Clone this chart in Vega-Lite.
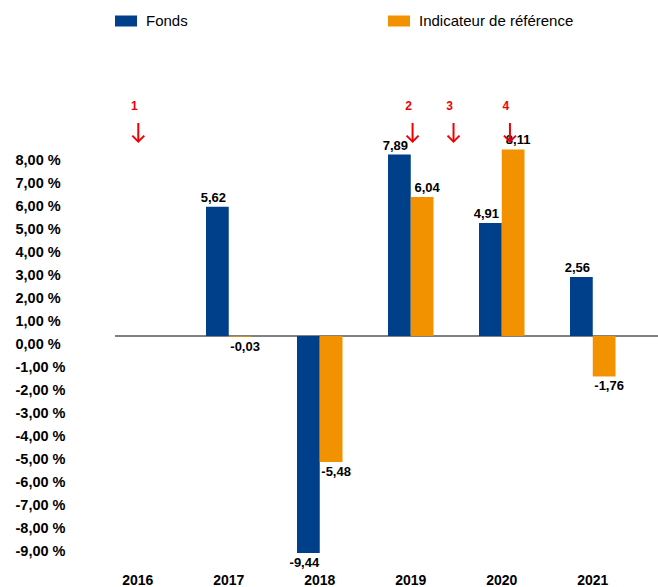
{
  "$schema": "https://vega.github.io/schema/vega-lite/v6.json",
  "width": 543,
  "height": 506,
  "autosize": "none",
  "padding": {"left": 115, "top": 60, "right": 0, "bottom": 21},
  "background": "white",
  "config": {
    "font": "Liberation Sans",
    "view": {"stroke": null},
    "locale": {"number": {"decimal": ",", "thousands": " ", "grouping": [3], "currency": ["", " €"], "minus": "-"}}
  },
  "datasets": {
    "bars": [
      {"year": "2017", "serie": "Fonds", "value": 5.62},
      {"year": "2017", "serie": "Indicateur de référence", "value": -0.03},
      {"year": "2018", "serie": "Fonds", "value": -9.44},
      {"year": "2018", "serie": "Indicateur de référence", "value": -5.48},
      {"year": "2019", "serie": "Fonds", "value": 7.89},
      {"year": "2019", "serie": "Indicateur de référence", "value": 6.04},
      {"year": "2020", "serie": "Fonds", "value": 4.91},
      {"year": "2020", "serie": "Indicateur de référence", "value": 8.11},
      {"year": "2021", "serie": "Fonds", "value": 2.56},
      {"year": "2021", "serie": "Indicateur de référence", "value": -1.76}
    ],
    "notes": [
      {"pos": 2016.006, "num": "1"},
      {"pos": 2019.02, "num": "2"},
      {"pos": 2019.47, "num": "3"},
      {"pos": 2020.09, "num": "4"}
    ]
  },
  "layer": [
    {
      "data": {"name": "bars"},
      "layer": [
        {
          "mark": {"type": "rule", "color": "#808080", "strokeWidth": 1},
          "encoding": {"y": {"datum": 0, "type": "quantitative"}}
        },
        {
          "mark": {"type": "bar"},
          "encoding": {
            "x": {
              "field": "year", "type": "nominal",
              "scale": {"domain": ["2016", "2017", "2018", "2019", "2020", "2021"], "paddingInner": 0.5, "paddingOuter": 0.2335, "align": 0},
              "axis": {"title": null, "domain": false, "ticks": false, "labelPadding": 7, "labelFontSize": 14, "labelFontWeight": "bold", "labelColor": "#000", "labelAngle": 0}
            },
            "xOffset": {
              "field": "serie", "type": "nominal",
              "scale": {"domain": ["Fonds", "Indicateur de référence"], "paddingInner": 0, "paddingOuter": 0}
            },
            "y": {
              "field": "value", "type": "quantitative",
              "scale": {"domain": [-10, 12], "nice": false, "zero": false},
              "axis": {
                "title": null, "domain": false, "ticks": false, "grid": false,
                "values": [-9, -8, -7, -6, -5, -4, -3, -2, -1, 0, 1, 2, 3, 4, 5, 6, 7, 8],
                "tickCount": 30,
                "labelAlign": "left", "labelPadding": 100, "labelOffset": 8, "labelFlush": false, "labelOverlap": false,
                "labelFontSize": 14.5, "labelFontWeight": "bold", "labelColor": "#000",
                "labelExpr": "replace(replace(format(datum.value, '.2f'), '.', ','), '\u2212', '-') + ' %'"
              }
            },
            "color": {
              "field": "serie", "type": "nominal",
              "scale": {"domain": ["Fonds", "Indicateur de référence"], "range": ["#003f8a", "#f39200"]},
              "legend": {
                "title": null, "orient": "none", "legendX": 0, "legendY": -50, "direction": "horizontal",
                "symbolType": "M-1,-0.5H1V0.5H-1Z", "symbolSize": 484, "symbolStrokeWidth": 0,
                "labelFontSize": 15, "labelColor": "#000", "labelOffset": 9, "columnPadding": 200, "padding": 0, "labelLimit": 300
              }
            }
          }
        },
        {
          "mark": {
            "type": "text", "fontSize": 13, "fontWeight": "bold", "color": "#000",
            "baseline": {"expr": "datum.value < 0 ? 'top' : 'alphabetic'"},
            "dy": {"expr": "datum.value < 0 ? 4 : -5"},
            "dx": {"expr": "datum.serie == 'Fonds' ? -4 : 5"}
          },
          "encoding": {
            "x": {"field": "year", "type": "nominal"},
            "xOffset": {"field": "serie", "type": "nominal"},
            "y": {"field": "value", "type": "quantitative"},
            "text": {"field": "value", "type": "quantitative", "format": ".2f"}
          }
        }
      ]
    },
    {
      "data": {"name": "notes"},
      "layer": [
        {
          "mark": {"type": "rule", "color": "#f00000", "strokeWidth": 2},
          "encoding": {
            "x": {"field": "pos", "type": "quantitative", "scale": {"domain": [2015.75, 2021.717], "nice": false, "zero": false}, "axis": null},
            "y": {"datum": 9.26, "type": "quantitative"},
            "y2": {"datum": 8.45}
          }
        },
        {
          "mark": {"type": "point", "shape": "M-1,-1L0,0L1,-1", "size": 144, "filled": false, "stroke": "#f00000", "strokeWidth": 2, "opacity": 1},
          "encoding": {
            "x": {"field": "pos", "type": "quantitative", "axis": null},
            "y": {"datum": 8.45, "type": "quantitative"}
          }
        },
        {
          "mark": {"type": "text", "fontSize": 12, "fontWeight": "bold", "color": "#f00000", "dx": -4, "baseline": "middle"},
          "encoding": {
            "x": {"field": "pos", "type": "quantitative", "axis": null},
            "y": {"datum": 10, "type": "quantitative"},
            "text": {"field": "num", "type": "nominal"}
          }
        }
      ]
    }
  ],
  "resolve": {"scale": {"x": "independent"}}
}
